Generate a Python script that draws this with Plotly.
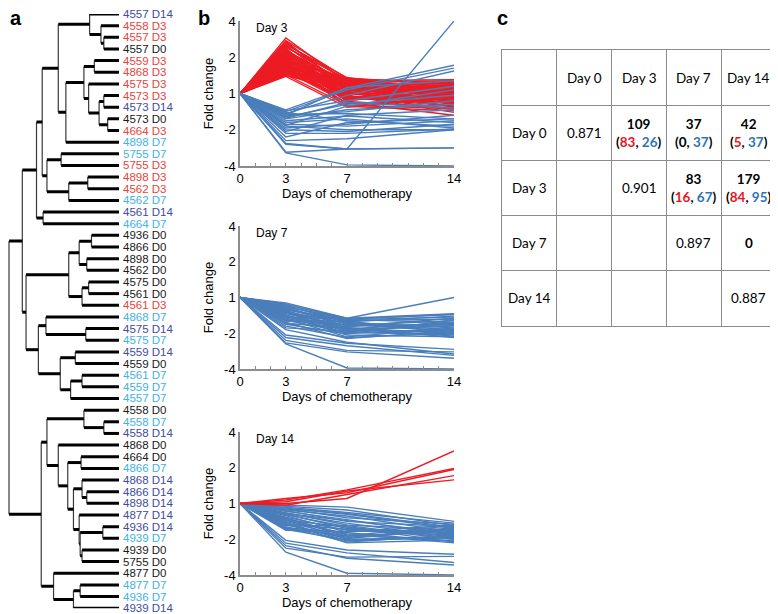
import plotly.graph_objects as go

# the page body keeps an 8px margin, so the figure is drawn 8px smaller
W, H = 770, 606
OFF = 8

# ---------------- panel a: hierarchical clustering of samples ----------------
leaf_labels = [
    '4557 D14', '4558 D3', '4557 D3', '4557 D0', '4559 D3', '4868 D3', '4575 D3',
    '4573 D3', '4573 D14', '4573 D0', '4664 D3', '4898 D7', '5755 D7', '5755 D3',
    '4898 D3', '4562 D3', '4562 D7', '4561 D14', '4664 D7', '4936 D0', '4866 D0',
    '4898 D0', '4562 D0', '4575 D0', '4561 D0', '4561 D3', '4868 D7', '4575 D14',
    '4575 D7', '4559 D14', '4559 D0', '4561 D7', '4559 D7', '4557 D7', '4558 D0',
    '4558 D7', '4558 D14', '4868 D0', '4664 D0', '4866 D7', '4868 D14', '4866 D14',
    '4898 D14', '4877 D14', '4936 D14', '4939 D7', '4939 D0', '5755 D0', '4877 D0',
    '4877 D7', '4936 D7', '4939 D14',
]

# nested merges: [distance, left, right]; integers are leaf indices
tree = [1.000,
        [0.879,
         [0.750,
          [0.698,
           [0.552,
            [0.267, 0, [0.164, 1, [0.138, 2, 3]]],
            [0.483,
             [0.319, [0.224, 4, 5], [0.276, 6, [0.181, [0.138, 7, 8], [0.103, 9, 10]]]],
             11]],
           [0.655, [0.526, 12, 13], [0.457, [0.284, 14, 15], 16]]],
          [0.690, 17, 18]],
         [0.845,
          [0.457, [0.362, [0.250, 19, 20], [0.293, 21, 22]], [0.336, [0.276, 23, 24], 25]],
          [0.733,
           [0.664, 26, [0.302, 27, 28]],
           [0.534, [0.397, 29, 30], [0.440, [0.336, 31, 32], 33]]]]],
        [0.707,
         [0.655,
          [0.319, 34, [0.138, 35, 36]],
          [0.552, 37,
           [0.466, [0.345, 38, 39],
            [0.414, [0.336, 40, [0.293, 41, 42]],
             [0.362, 43, [0.353, [0.147, 44, 45], [0.336, 46, 47]]]]]]],
         [0.595, 48, [0.414, [0.353, 49, 50], 51]]]]

time_colors = {'D0': '#1a1a1a', 'D3': '#E5453B', 'D7': '#43B1E3', 'D14': '#3E4C9C'}

# ---------------- panel b: log2 fold change of DE genes (day 3, 7, 14) ----------------
days = [0, 3, 7, 14]

day3_up = [
    (1.53, 0.30, 0.10), (1.46, 0.42, 0.25), (1.41, 0.18, -0.05), (1.37, 0.35, 0.32),
    (1.33, 0.05, -0.20), (1.30, 0.25, 0.15), (1.27, 0.40, 0.05), (1.24, -0.10, -0.35),
    (1.21, 0.12, 0.20), (1.18, 0.30, -0.10), (1.16, 0.20, 0.30), (1.14, -0.05, -0.45),
    (1.12, 0.36, 0.00), (1.10, 0.08, 0.12), (1.08, 0.22, -0.25), (1.06, -0.15, -0.10),
    (1.04, 0.28, 0.22), (1.02, 0.02, -0.30), (1.00, 0.15, 0.05), (0.98, 0.33, 0.18),
    (0.97, -0.22, -0.40), (0.95, 0.10, -0.15), (0.93, 0.24, 0.28), (0.91, -0.02, 0.08),
    (0.90, 0.38, -0.05), (0.88, 0.16, -0.22), (0.86, -0.12, 0.15), (0.85, 0.30, 0.35),
    (0.83, 0.06, -0.38), (0.82, 0.20, 0.02), (0.80, -0.28, -0.20), (0.79, 0.12, 0.25),
    (0.77, 0.26, -0.12), (0.76, -0.06, -0.52), (0.74, 0.18, 0.10), (0.73, 0.00, -0.28),
    (0.71, 0.34, 0.20), (0.70, -0.18, 0.00), (0.68, 0.14, -0.08), (0.67, 0.22, 0.32),
    (0.65, -0.08, -0.18), (0.64, 0.28, 0.05), (0.62, 0.04, -0.35), (0.61, -0.25, -0.60),
    (0.60, 0.17, 0.18), (0.58, 0.32, -0.02), (0.57, -0.12, -0.25), (0.55, 0.09, 0.12),
    (0.54, 0.24, -0.15), (0.52, -0.32, -0.42), (0.51, 0.02, 0.22), (0.49, 0.19, -0.30),
    (0.47, -0.38, -0.10), (1.44, 0.10, -0.28), (1.35, 0.44, 0.05), (1.22, -0.20, 0.10),
    (0.96, 0.41, 0.28), (0.84, -0.35, -0.48), (0.72, 0.36, 0.38), (0.59, -0.15, 0.25),
]
day3_down = [
    (-0.45, 0.15, 0.78), (-0.50, 0.10, 0.70), (-0.55, -0.05, 0.62), (-0.60, 0.17, 0.35),
    (-0.48, -0.20, 0.20), (-0.65, -0.30, -0.05), (-0.70, -0.45, -0.30), (-0.58, -0.55, -0.70),
    (-0.75, -0.62, -0.80), (-0.80, -0.70, -0.95), (-0.85, -0.90, -0.75), (-0.90, -1.00, -1.00),
    (-0.95, -0.85, -0.60), (-1.00, -1.05, -0.85), (-0.68, -0.25, -0.40), (-0.52, -0.75, -0.90),
    (-1.10, -1.10, -0.98), (-1.20, -0.80, -0.70), (-1.30, -1.25, -1.00), (-1.38, -1.53, 2.00),
    (-1.40, -1.53, -1.50), (-1.62, -1.53, -1.50), (-1.64, -1.97, -2.00), (-1.05, -0.60, -0.45),
    (-0.88, -0.35, 0.10), (-0.62, -0.50, -0.20),
]
day7_down = [
    (-0.15, -0.58, -0.45), (-0.18, -0.62, -0.70), (-0.22, -0.70, -0.85), (-0.25, -0.65, -0.60),
    (-0.28, -0.75, -0.95), (-0.30, -0.80, -0.75), (-0.33, -0.68, -0.52), (-0.36, -0.85, -1.00),
    (-0.38, -0.90, -0.80), (-0.40, -0.72, -0.90), (-0.43, -0.95, -1.05), (-0.45, -0.78, -0.65),
    (-0.48, -1.00, -0.88), (-0.50, -0.88, -0.70), (-0.52, -1.05, -1.10), (-0.55, -0.82, -0.58),
    (-0.58, -0.92, -0.95), (-0.60, -1.10, -0.85), (-0.63, -0.98, -1.02), (-0.66, -0.76, -0.78),
    (-0.70, -1.15, -0.92), (-0.72, -0.86, -1.08), (-0.75, -1.02, -0.62), (-0.80, -1.12, -1.00),
    (-0.85, -0.94, -0.72), (-0.55, -0.60, -0.48), (-0.35, -0.62, -0.55), (-1.05, -1.28, -1.45),
    (-1.12, -1.35, -1.62), (-1.20, -1.48, -1.52), (-1.27, -1.52, -1.70), (-1.30, -1.97, -2.00),
    (-0.90, -1.25, -1.58), (-0.65, -0.66, -0.98), (-0.42, -0.84, -1.12), (-0.20, -0.58, 0.00),
    (-0.26, -0.60, -0.47),
]
day14_up = [
    (0.00, 0.14, 1.47), (0.10, 0.38, 0.98), (0.14, 0.30, 0.95), (-0.05, 0.25, 0.78),
    (0.05, 0.35, 0.66),
]
day14_down = [
    (-0.05, -0.10, -0.50), (-0.08, -0.18, -0.62), (-0.10, -0.25, -0.55), (-0.12, -0.30, -0.70),
    (-0.15, -0.40, -0.58), (-0.18, -0.35, -0.80), (-0.20, -0.50, -0.65), (-0.22, -0.45, -0.90),
    (-0.25, -0.60, -0.75), (-0.28, -0.55, -0.95), (-0.30, -0.70, -0.85), (-0.32, -0.65, -1.00),
    (-0.35, -0.80, -0.60), (-0.38, -0.75, -0.88), (-0.40, -0.88, -1.05), (-0.42, -0.92, -0.78),
    (-0.45, -1.00, -0.95), (-0.48, -0.85, -1.10), (-0.50, -0.95, -0.68), (-0.53, -1.05, -0.92),
    (-0.55, -1.10, -1.02), (-0.58, -0.72, -0.82), (-0.60, -0.98, -0.72), (-0.62, -0.62, -0.98),
    (-0.65, -1.08, -0.88), (-0.68, -0.82, -1.06), (-0.70, -0.90, -0.62), (-0.72, -1.02, -0.96),
    (-0.75, -0.78, -0.74), (-0.28, -0.48, -0.84), (-1.03, -1.30, -1.42), (-1.11, -1.38, -1.65),
    (-1.25, -1.50, -1.48), (-1.18, -1.53, -1.72), (-1.36, -1.95, -2.00), (-0.46, -0.66, -1.08),
    (-0.15, -0.28, -0.66),
]
fold_ticks = [-2, -1, 0, 1, 2]
fold_labels = ['-4', '-2', '1', '2', '4']

# ---------------- panel c: correlation / DE gene counts ----------------
day_names = ['Day 0', 'Day 3', 'Day 7', 'Day 14']
self_corr = [0.871, 0.901, 0.897, 0.887]
pairs = [(0, 1), (0, 2), (0, 3), (1, 2), (1, 3), (2, 3)]
n_total = [109, 37, 42, 83, 179, 0]
n_up = [83, 0, 5, 16, 84, 0]
n_down = [26, 37, 37, 67, 95, 0]

RED = '#EC1C24'
BLUE = '#4A7EBB'
ARIAL = 'Liberation Sans, Arial, sans-serif'
CALIBRI = 'Lato, Carlito, Calibri, sans-serif'
GREY = '#8c8c8c'


# positions are given in window pixels of the 778x614 page
def px(x):
    return (x - OFF) / W


def py(y):
    return 1 - (y - OFF) / H


fig = go.Figure()

# dendrogram segments
hx, hy, vx, vy = [], [], [], []


def walk(node):
    if isinstance(node, int):
        return node, 0.0
    h, a, b = node
    ya, ha = walk(a)
    yb, hb = walk(b)
    vx.extend([h, h, None])
    vy.extend([ya, yb, None])
    hx.extend([h, ha, None, h, hb, None])
    hy.extend([ya, ya, None, yb, yb, None])
    return (ya + yb) / 2, h


walk(tree)
fig.add_trace(go.Scatter(x=vx, y=vy, mode='lines', line=dict(color='#3a3a3a', width=1.2),
                         cliponaxis=False, hoverinfo='skip', xaxis='x', yaxis='y'))
fig.add_trace(go.Scatter(x=hx, y=hy, mode='lines', line=dict(color='black', width=3),
                         cliponaxis=False, hoverinfo='skip', xaxis='x', yaxis='y'))

annotations = []
for i, lab in enumerate(leaf_labels):
    annotations.append(dict(x=0, y=i, xref='x', yref='y', text=lab, showarrow=False,
                            xanchor='left', yanchor='middle', xshift=2,
                            font=dict(family=ARIAL, size=11.5,
                                      color=time_colors[lab.split()[1]])))


def line_xy(rows):
    xs, ys = [], []
    for r in rows:
        xs += days + [None]
        ys += [0] + list(r) + [None]
    return xs, ys


b_panels = [
    ('Day 3', [(day3_up, RED), (day3_down, BLUE)], (21, 166)),
    ('Day 7', [(day7_down, BLUE)], (226, 369)),
    ('Day 14', [(day14_down, BLUE), (day14_up, RED)], (432, 575)),
]

layout_axes = {}
for i, (name, groups, (top, bot)) in enumerate(b_panels):
    k = i + 2
    for rows, col in groups:
        xs, ys = line_xy(rows)
        fig.add_trace(go.Scatter(x=xs, y=ys, mode='lines', line=dict(color=col, width=1.4),
                                 cliponaxis=False, hoverinfo='skip',
                                 xaxis=f'x{k}', yaxis=f'y{k}'))
    layout_axes[f'xaxis{k}'] = dict(
        domain=[px(240), px(454)], range=[0, 14], anchor=f'y{k}',
        tickvals=days, showline=True, linecolor=GREY, linewidth=1.5,
        ticks='inside', ticklen=3, tickcolor=GREY,
        minor=dict(tick0=0, dtick=1, ticks='inside', ticklen=3, tickcolor=GREY),
        showgrid=False, zeroline=False, tickfont=dict(size=13, family=ARIAL),
        title=dict(text='Days of chemotherapy', font=dict(size=13, family=ARIAL), standoff=1),
        automargin=False)
    layout_axes[f'yaxis{k}'] = dict(
        domain=[py(bot), py(top)], range=[-2, 2], anchor=f'x{k}',
        tickvals=fold_ticks, ticktext=fold_labels, showline=True, linecolor=GREY,
        linewidth=1.5, ticks='', showgrid=False, zeroline=False,
        tickfont=dict(size=13, family=ARIAL),
        title=dict(text='Fold change', font=dict(size=13, family=ARIAL), standoff=8),
        automargin=False)
    annotations.append(dict(x=px(254), y=py(top + 7), xref='paper', yref='paper',
                            text=name, showarrow=False, xanchor='left', yanchor='middle',
                            font=dict(size=12, family=ARIAL)))

# panel letters, pinned to the top edge of the figure
for letter, lx in [('a', 8), ('b', 196), ('c', 495)]:
    annotations.append(dict(x=px(lx), y=1 + 3 / H, xref='paper', yref='paper',
                            text=f'<b>{letter}</b>', showarrow=False, xanchor='left',
                            yanchor='top', font=dict(size=20, family=ARIAL)))

# table cells
tfont = dict(size=13.5, family=CALIBRI, color='black')


def cell(text, r, c):
    annotations.append(dict(x=c + 0.5, y=r + 0.5, xref='x5', yref='y5', text=text,
                            showarrow=False, xanchor='center', yanchor='middle', font=tfont))


for j, d in enumerate(day_names):
    cell(d, 0, j + 1)
    cell(d, j + 1, 0)
    cell(f'{self_corr[j]:.3f}', j + 1, j + 1)
for (r, c), tot, up, dn in zip(pairs, n_total, n_up, n_down):
    if tot == 0:
        cell(f'<b>{tot}</b>', r + 1, c + 1)
        continue
    up_col = '#E8141C' if up > 0 else 'black'
    txt = (f'<b>{tot}</b><br><b>(<span style="color:{up_col}">{up}</span>, '
           f'<span style="color:#2E75B6">{dn}</span>)</b>')
    cell(txt, r + 1, c + 1)

fig.add_trace(go.Scatter(x=[], y=[], xaxis='x5', yaxis='y5', hoverinfo='skip'))

# dendrogram: leaves at window x=119, root at window x=9
d_scale = 119 - 9

fig.update_layout(
    width=W, height=H, margin=dict(l=0, r=0, t=0, b=0),
    paper_bgcolor='white', plot_bgcolor='rgba(0,0,0,0)', showlegend=False,
    font=dict(family=ARIAL, color='black'),
    xaxis=dict(domain=[px(OFF), px(119)], range=[(119 - OFF) / d_scale, 0],
               visible=False, anchor='y'),
    yaxis=dict(domain=[py(608.2), py(14)], range=[len(leaf_labels) - 1, 0], visible=False,
               anchor='x'),
    xaxis5=dict(domain=[px(502), px(776)], range=[0, 5], anchor='y5', tickvals=[1, 2, 3, 4],
                showgrid=True, gridcolor=GREY, gridwidth=1.3, showticklabels=False, ticks='',
                showline=True, mirror=True, linecolor=GREY, linewidth=1.3, zeroline=False),
    yaxis5=dict(domain=[py(326), py(50)], range=[5, 0], anchor='x5', tickvals=[1, 2, 3, 4],
                showgrid=True, gridcolor=GREY, gridwidth=1.3, showticklabels=False, ticks='',
                showline=True, mirror=True, linecolor=GREY, linewidth=1.3, zeroline=False),
    annotations=annotations,
    **layout_axes,
)

fig.write_html('out.html')
